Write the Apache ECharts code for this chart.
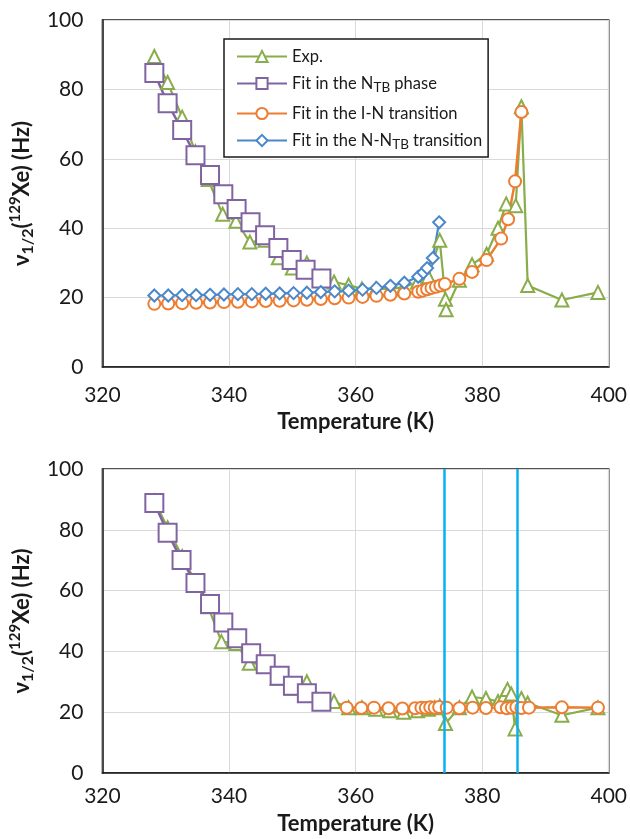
<!DOCTYPE html>
<html><head><meta charset="utf-8">
<script src="https://cdn.jsdelivr.net/npm/echarts@6/dist/echarts.min.js"></script>
<style>html,body{margin:0;padding:0;background:#fff}#c{width:630px;height:839px}</style>
</head><body><div id="c"></div>
<script>
// ---- axis ticks ----
const xTicks = [320, 340, 360, 380, 400];
const yTicks = [0, 20, 40, 60, 80, 100];

// ---- top chart ----
const topExpT = [328.2,330.3,332.6,334.7,336.7,339.0,341.1,343.3,345.7,347.8,350.0,352.3,354.6,356.6,358.9,361.0,363.2,365.5,367.6,369.8,371.5,373.3,374.2,374.3,376.4,378.4,380.7,382.5,383.8,385.3,386.2,387.2,392.6,398.3];
const topExpV = [89.5,82,72,62,54,44,42,36,36.5,31.5,28.5,30,26,24.5,23.6,22.5,22.5,22.5,23,24.5,26,36.5,19.5,16.5,25,29.5,32.5,40,47,46.5,75,23.5,19.3,21.5];

const topNtbT = [328.2,330.3,332.6,334.7,337.0,339.1,341.2,343.4,345.7,347.8,349.9,352.1,354.6];
const topNtbV = [84.7,76,68.3,61,55.3,49.8,45.5,41.7,38,34.3,30.8,28,25.5];

const topInT = [328.2,330.4,332.6,334.8,337.0,339.2,341.4,343.6,345.8,348.0,350.2,352.3,354.5,356.7,358.9,361.1,363.3,365.5,367.7,369.9,370.6,371.3,372.0,372.7,373.4,374.1,376.4,378.4,380.7,383.0,384.1,385.2,386.2];
const topInV = [18.2,18.3,18.4,18.5,18.6,18.7,18.8,18.9,19.0,19.1,19.2,19.4,19.6,19.8,20.0,20.2,20.5,20.8,21.2,21.7,22.0,22.4,22.8,23.1,23.5,23.9,25.4,27.4,30.8,37.0,42.6,53.5,73.5];

const topNnT = [328.2,330.4,332.6,334.8,337.0,339.2,341.4,343.6,345.8,348.0,350.2,352.3,354.5,356.7,358.9,361.1,363.3,365.5,367.7,369.9,370.7,371.3,372.2,373.2];
const topNnV = [20.6,20.6,20.7,20.7,20.8,20.9,21.0,21.0,21.1,21.2,21.3,21.4,21.6,21.8,22.0,22.3,22.8,23.4,24.3,26.0,27.2,28.5,31.4,41.7];

// ---- bottom chart ----
const botExpT = [328.2,330.3,332.6,334.7,336.7,338.8,341.1,343.2,345.6,347.6,349.9,352.3,354.9,356.6,358.9,361.0,363.2,365.4,367.6,369.8,371.5,372.5,373.3,374.2,376.4,378.4,380.6,382.5,383.5,384.0,384.6,385.2,385.6,386.2,387.2,392.6,398.3];
const botExpV = [89.5,80.7,71.2,62.9,54.7,43.2,42.6,36.1,35.8,31.2,27.9,30,24,23.5,21.5,21.5,21,20.5,20,20.5,21,21.5,22,16.3,21.5,25,24.5,23.5,25.5,27.5,26,14.5,22,24.5,23,19,21.5];

const botNtbT = [328.2,330.3,332.5,334.7,337.0,339.1,341.3,343.5,345.8,348.0,350.1,352.3,354.6];
const botNtbV = [88.8,79,70.1,62.5,55.6,49.5,44.3,39.4,35.8,32.0,28.7,26.2,23.4];

const botFitT = [358.6,360.9,362.9,365.2,367.4,369.4,370.4,371.1,371.8,372.5,373.2,374.4,376.4,378.5,380.6,382.9,383.9,384.7,385.4,386.2,387.4,392.6,398.3];
const botFitV = [21.5,21.4,21.5,21.3,21.2,21.3,21.5,21.4,21.6,21.5,21.7,21.5,21.3,21.5,21.4,21.6,21.3,21.5,21.7,21.4,21.5,21.6,21.5];

const markerLinesT = [374.0, 385.5];

// ---- names ----
const seriesNames = ['Exp.', 'Fit in the NTB phase', 'Fit in the I-N transition', 'Fit in the N-NTB transition'];
const legendRich = {
  'Exp.': '{n|Exp.}',
  'Fit in the NTB phase': '{n|Fit in the N}{s|TB}{n| phase}',
  'Fit in the I-N transition': '{n|Fit in the I-N transition}',
  'Fit in the N-NTB transition': '{n|Fit in the N-N}{s|TB}{n| transition}'
};

const C = { green: '#88AD4A', purple: '#8064A2', orange: '#ED7D31', blue: '#4A87CB', cyan: '#09B0F0' };
const FONT = 'Lato';

function zip(a, b) { return a.map((t, i) => [t, b[i]]); }

function mkSeries(name, xi, T, V, color, symbol, size, lw) {
  return {
    type: 'line', name: name, xAxisIndex: xi, yAxisIndex: xi,
    data: zip(T, V), symbol: symbol, symbolSize: size,
    lineStyle: { color: color, width: lw },
    itemStyle: { color: color, borderColor: color, borderWidth: 3 },
    emphasis: { disabled: true }, z: 2
  };
}

function xAxisCfg(gi, margin, gap) {
  return {
    gridIndex: gi, type: 'value', min: xTicks[0], max: xTicks[xTicks.length - 1], interval: xTicks[1] - xTicks[0],
    axisLine: { show: true, lineStyle: { color: '#1a1a1a', width: 1.5 } },
    axisTick: { show: false },
    axisLabel: { fontFamily: FONT, fontSize: 21, color: '#1a1a1a', margin: margin },
    splitLine: { show: true, lineStyle: { color: '#d9d9d9', width: 1 } },
    name: 'Temperature (K)', nameLocation: 'middle', nameGap: gap,
    nameTextStyle: { fontFamily: FONT, fontSize: 22, fontWeight: 'bold', color: '#1a1a1a' }
  };
}
function yAxisCfg(gi) {
  return {
    gridIndex: gi, type: 'value', min: yTicks[0], max: yTicks[yTicks.length - 1], interval: yTicks[1] - yTicks[0],
    axisLine: { show: true, lineStyle: { color: '#1a1a1a', width: 1.5 } },
    axisTick: { show: false },
    axisLabel: { fontFamily: FONT, fontSize: 21, color: '#1a1a1a', margin: 19 },
    splitLine: { show: true, lineStyle: { color: '#d9d9d9', width: 1 } },
    name: '{a|ν}{s|1/2}{a|(}{p|129}{a|Xe) (Hz)}', nameLocation: 'middle', nameGap: 52, nameRotate: 90,
    nameTextStyle: {
      fontFamily: FONT, color: '#1a1a1a',
      rich: {
        a: { fontFamily: FONT, fontSize: 22, fontWeight: 'bold', color: '#1a1a1a', lineHeight: 28 },
        s: { fontFamily: FONT, fontSize: 16, fontWeight: 'bold', color: '#1a1a1a', lineHeight: 16, verticalAlign: 'bottom' },
        p: { fontFamily: FONT, fontSize: 15, fontWeight: 'bold', color: '#1a1a1a', lineHeight: 16, verticalAlign: 'top' }
      }
    }
  };
}

const series = [
  mkSeries(seriesNames[0], 0, topExpT, topExpV, C.green, 'emptyTriangle', 13, 2.2),
  mkSeries(seriesNames[1], 0, topNtbT, topNtbV, C.purple, 'emptyRect', 18, 2.5),
  mkSeries(seriesNames[2], 0, topInT, topInV, C.orange, 'emptyCircle', 12, 2.5),
  mkSeries(seriesNames[3], 0, topNnT, topNnV, C.blue, 'emptyDiamond', 12, 2.2),
  mkSeries('Exp. (b)', 1, botExpT, botExpV, C.green, 'emptyTriangle', 13, 2.2),
  mkSeries('NTB fit (b)', 1, botNtbT, botNtbV, C.purple, 'emptyRect', 18, 2.5),
  mkSeries('Fit (b)', 1, botFitT, botFitV, C.orange, 'emptyCircle', 12, 2.5)
];
series[6].markLine = {
  silent: true, symbol: ['none', 'none'], label: { show: false },
  lineStyle: { color: C.cyan, width: 2.5, type: 'solid' },
  data: markerLinesT.map(t => ({ xAxis: t })),
  z: 5
};

const chart = echarts.init(document.getElementById('c'), null, { renderer: 'canvas' });
chart.setOption({
  animation: false,
  backgroundColor: '#fff',
  grid: [
    { left: 95, right: 19, top: 20, height: 347, show: true, borderColor: '#1a1a1a', borderWidth: 1.5, backgroundColor: 'transparent' },
    { left: 95, right: 19, top: 469, height: 304, show: true, borderColor: '#1a1a1a', borderWidth: 1.5, backgroundColor: 'transparent' }
  ],
  xAxis: [xAxisCfg(0, 18, 44), xAxisCfg(1, 13, 40)],
  yAxis: [yAxisCfg(0), yAxisCfg(1)],
  legend: {
    data: seriesNames, orient: 'vertical', left: 224, top: 39,
    itemWidth: 50, itemHeight: 14, itemGap: 10,
    padding: [9, 6, 5, 12],
    backgroundColor: '#fff', borderColor: '#1a1a1a', borderWidth: 1.5,
    formatter: n => legendRich[n],
    textStyle: {
      fontFamily: FONT, fontSize: 16.5, color: '#1a1a1a',
      rich: {
        n: { fontFamily: FONT, fontSize: 16.5, color: '#1a1a1a', lineHeight: 23 },
        s: { fontFamily: FONT, fontSize: 13.5, color: '#1a1a1a', lineHeight: 14, verticalAlign: 'bottom' }
      }
    }
  },
  series: series
});
</script>
</body></html>
